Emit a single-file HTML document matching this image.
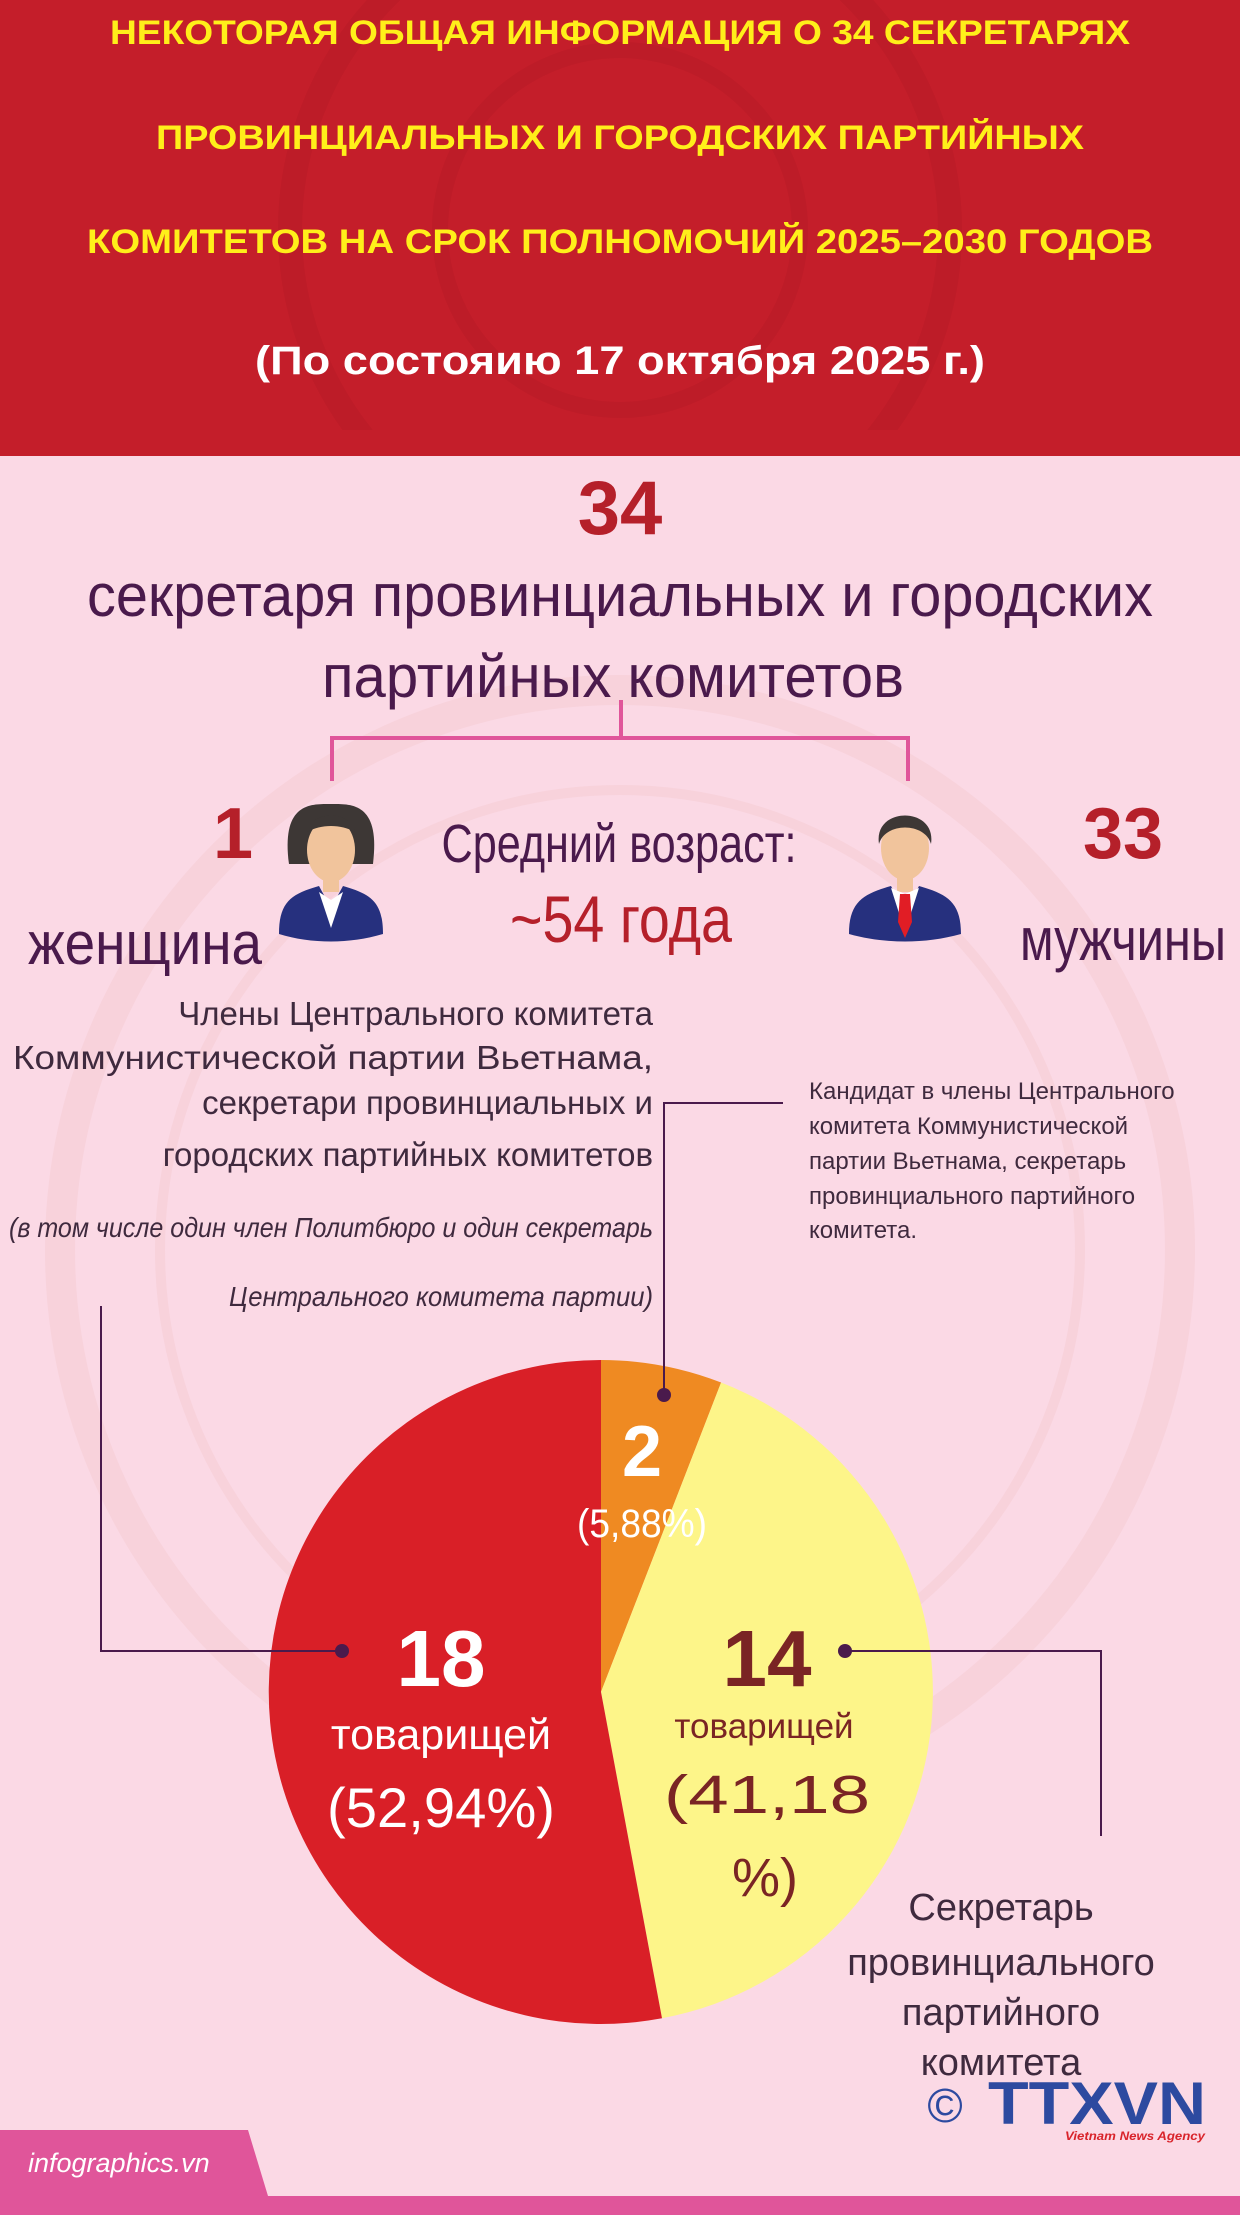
<!DOCTYPE html>
<html><head><meta charset="utf-8"><style>
html,body{margin:0;padding:0;}
body{width:1240px;height:2215px;overflow:hidden;background:#fbd9e5;}
svg{display:block;font-family:"Liberation Sans",sans-serif;}
</style></head><body>
<svg width="1240" height="2215" viewBox="0 0 1240 2215" xmlns="http://www.w3.org/2000/svg">
<defs><clipPath id="hc"><rect x="0" y="0" width="1240" height="430"/></clipPath></defs>
<rect x="0" y="0" width="1240" height="2215" fill="#fbd9e5"/>
<circle cx="620" cy="1250" r="560" fill="none" stroke="#f6cdd3" stroke-width="30" opacity="0.6"/>
<circle cx="620" cy="1250" r="460" fill="none" stroke="#f6cdd3" stroke-width="10" opacity="0.6"/>
<!-- header -->
<rect x="0" y="0" width="1240" height="456" fill="#c41e2a"/>
<g clip-path="url(#hc)">
<circle cx="620" cy="230" r="330" fill="none" stroke="#bd1c28" stroke-width="24"/>
<circle cx="620" cy="230" r="180" fill="none" stroke="#bd1c28" stroke-width="16"/>
</g>
<g fill="#ffef1a" font-weight="bold" font-size="34" text-anchor="middle">
<text x="620" y="44" textLength="1020" lengthAdjust="spacingAndGlyphs">НЕКОТОРАЯ ОБЩАЯ ИНФОРМАЦИЯ О 34 СЕКРЕТАРЯХ</text>
<text x="620" y="149" textLength="928" lengthAdjust="spacingAndGlyphs">ПРОВИНЦИАЛЬНЫХ И ГОРОДСКИХ ПАРТИЙНЫХ</text>
<text x="620" y="253" textLength="1066" lengthAdjust="spacingAndGlyphs">КОМИТЕТОВ НА СРОК ПОЛНОМОЧИЙ 2025–2030 ГОДОВ</text>
</g>
<text x="620" y="374" fill="#fff" font-weight="bold" font-size="40" text-anchor="middle" textLength="730" lengthAdjust="spacingAndGlyphs">(По состояию 17 октября 2025 г.)</text>
<!-- 34 -->
<text x="620" y="534" fill="#b5202a" font-weight="bold" font-size="76" text-anchor="middle">34</text>
<g fill="#4a1a4c" font-size="60" text-anchor="middle">
<text x="620" y="616" textLength="1066" lengthAdjust="spacingAndGlyphs">секретаря провинциальных и городских</text>
<text x="613" y="697" textLength="582" lengthAdjust="spacingAndGlyphs">партийных комитетов</text>
</g>
<path d="M621 700 V738 M332 781 V738 H908 V781" stroke="#e0559a" stroke-width="4" fill="none"/>
<!-- 1 / 33 -->
<text x="233" y="858" fill="#b5202a" font-weight="bold" font-size="72" text-anchor="middle">1</text>
<text x="1123" y="858" fill="#b5202a" font-weight="bold" font-size="72" text-anchor="middle">33</text>
<text x="619" y="862" fill="#4a1a4c" font-size="54" text-anchor="middle" textLength="355" lengthAdjust="spacingAndGlyphs">Средний возраст:</text>
<text x="621" y="942" fill="#b5202a" font-size="66" text-anchor="middle" textLength="222" lengthAdjust="spacingAndGlyphs">~54 года</text>
<text x="28" y="964" fill="#4a1a4c" font-size="60" textLength="234" lengthAdjust="spacingAndGlyphs">женщина</text>
<text x="1226" y="960" fill="#4a1a4c" font-size="60" text-anchor="end" textLength="206" lengthAdjust="spacingAndGlyphs">мужчины</text>
<!-- woman icon -->
<g transform="translate(331,872)">
<path d="M-42 -8 C-50 -70 -20 -68 0 -68 C20 -68 50 -70 42 -8 Z" fill="#3d3735"/>
<rect x="-8" y="-2" width="16" height="22" fill="#f1c49c"/>
<ellipse cx="0" cy="-22" rx="24" ry="32" fill="#f1c49c"/>
<path d="M-24 -40 C-20 -62 20 -62 24 -40 C10 -48 -10 -48 -24 -40Z" fill="#3d3735"/>
<path d="M-52 62 C-52 30 -40 22 -12 14 L0 36 L12 14 C40 22 52 30 52 62 C20 72 -20 72 -52 62Z" fill="#26307e"/>
<path d="M-12 20 L0 56 L12 20 L0 28Z" fill="#fff"/>
</g>
<!-- man icon -->
<g transform="translate(905,872)">
<rect x="-8" y="-2" width="16" height="22" fill="#f1c49c"/>
<ellipse cx="0" cy="-24" rx="24" ry="32" fill="#f1c49c"/>
<path d="M-26 -28 C-32 -66 32 -66 26 -28 C20 -50 -20 -50 -26 -28Z" fill="#3d3735"/>
<path d="M-56 62 C-56 30 -42 22 -14 14 L0 40 L14 14 C42 22 56 30 56 62 C20 72 -20 72 -56 62Z" fill="#26307e"/>
<path d="M-14 16 L0 60 L14 16 L0 22Z" fill="#fff"/>
<path d="M-5 22 L5 22 L7 50 L0 66 L-7 50Z" fill="#e11d25"/>
</g>
<!-- left text block -->
<g fill="#3f2a3e" font-size="33" text-anchor="end">
<text x="653" y="1025">Члены Центрального комитета</text>
<text x="653" y="1069" textLength="640" lengthAdjust="spacingAndGlyphs">Коммунистической партии Вьетнама,</text>
<text x="653" y="1114">секретари провинциальных и</text>
<text x="653" y="1166">городских партийных комитетов</text>
</g>
<g fill="#3f2a3e" font-size="28" font-style="italic" text-anchor="end">
<text x="653" y="1237" textLength="644" lengthAdjust="spacingAndGlyphs">(в том числе один член Политбюро и один секретарь</text>
<text x="653" y="1306" textLength="424" lengthAdjust="spacingAndGlyphs">Центрального комитета партии)</text>
</g>
<!-- right text block -->
<g fill="#3f2a3e" font-size="24">
<text x="809" y="1099">Кандидат в члены Центрального</text>
<text x="809" y="1134">комитета Коммунистической</text>
<text x="809" y="1169">партии Вьетнама, секретарь</text>
<text x="809" y="1204">провинциального партийного</text>
<text x="809" y="1238">комитета.</text>
</g>
<!-- pie -->
<g transform="translate(601,1692)">
<path d="M0 0 L0 -332 A332 332 0 0 1 120.1 -309.5 Z" fill="#ef8a22"/>
<path d="M0 0 L120.1 -309.5 A332 332 0 0 1 61.0 326.3 Z" fill="#fdf589"/>
<path d="M0 0 L61.0 326.3 A332 332 0 1 1 0 -332 Z" fill="#d91f27"/>
</g>
<!-- connectors -->
<path d="M783 1103 H664 V1395" stroke="#4a1a4c" stroke-width="2" fill="none"/>
<circle cx="664" cy="1395" r="7" fill="#4a1a4c"/>
<path d="M101 1306 V1651 H342" stroke="#4a1a4c" stroke-width="2" fill="none"/>
<circle cx="342" cy="1651" r="7" fill="#4a1a4c"/>
<path d="M845 1651 H1101 V1836" stroke="#4a1a4c" stroke-width="2" fill="none"/>
<circle cx="845" cy="1651" r="7" fill="#4a1a4c"/>
<!-- pie labels -->
<text x="642" y="1476" fill="#fff" font-weight="bold" font-size="72" text-anchor="middle">2</text>
<text x="642" y="1537" fill="#fff" font-size="40" text-anchor="middle" textLength="130" lengthAdjust="spacingAndGlyphs">(5,88%)</text>
<text x="441" y="1686" fill="#fff" font-weight="bold" font-size="80" text-anchor="middle">18</text>
<text x="441" y="1749" fill="#fff" font-size="43" text-anchor="middle">товарищей</text>
<text x="441" y="1827" fill="#fff" font-size="56" text-anchor="middle" textLength="228" lengthAdjust="spacingAndGlyphs">(52,94%)</text>
<text x="767" y="1686" fill="#7a2424" font-weight="bold" font-size="80" text-anchor="middle">14</text>
<text x="764" y="1738" fill="#7a2424" font-size="35" text-anchor="middle">товарищей</text>
<text x="767" y="1813" fill="#7a2424" font-size="54" text-anchor="middle" textLength="206" lengthAdjust="spacingAndGlyphs">(41,18</text>
<text x="765" y="1896" fill="#7a2424" font-size="54" text-anchor="middle">%)</text>
<g fill="#3f2a3e" font-size="38" text-anchor="middle">
<text x="1001" y="1920">Секретарь</text>
<text x="1001" y="1975">провинциального</text>
<text x="1001" y="2025">партийного</text>
<text x="1001" y="2075">комитета</text>
</g>
<!-- logo -->
<text x="945" y="2122" fill="#2d4aa0" font-size="48" text-anchor="middle">©</text>
<text x="988" y="2124" fill="#2d4aa0" font-weight="bold" font-size="60" textLength="218" lengthAdjust="spacingAndGlyphs">TTXVN</text>
<text x="1065" y="2140" fill="#d9232a" font-weight="bold" font-style="italic" font-size="12" textLength="140" lengthAdjust="spacingAndGlyphs">Vietnam News Agency</text>
<!-- footer -->
<path d="M0 2130 H248 L268 2196 H1240 V2215 H0 Z" fill="#e0559a"/>
<text x="28" y="2172" fill="#fff" font-style="italic" font-size="27">infographics.vn</text>
</svg>
</body></html>
